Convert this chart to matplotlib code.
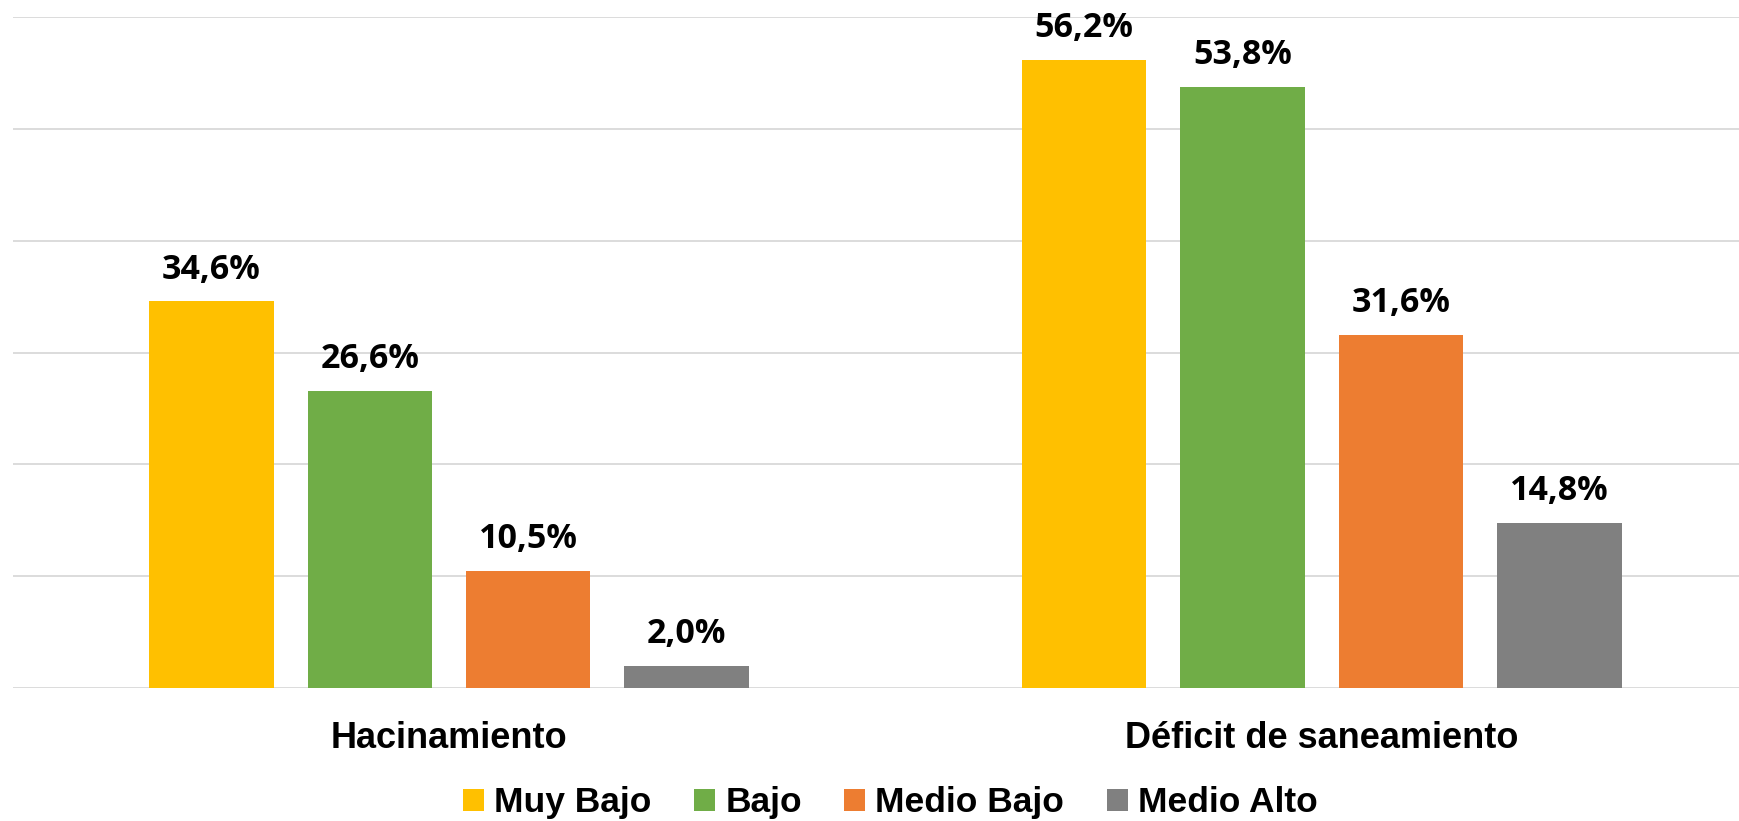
import matplotlib.pyplot as plt
import numpy as np

categories = ["Hacinamiento", "Déficit de saneamiento"]
series_names = ["Muy Bajo", "Bajo", "Medio Bajo", "Medio Alto"]
muy_bajo = [34.6, 56.2]
bajo = [26.6, 53.8]
medio_bajo = [10.5, 31.6]
medio_alto = [2.0, 14.8]
colors = ["#FFC000", "#70AD47", "#ED7D31", "#808080"]

plt.rcParams['font.family'] = ['Liberation Sans', 'DejaVu Sans']

fig = plt.figure(figsize=(17.39, 8.21), dpi=100)
ax = fig.add_axes([0.00725, 0.162, 0.99275, 0.817])

x = np.arange(len(categories))
pitch = 0.1815
width = 0.1426

bars = []
for j, (name, vals) in enumerate(zip(series_names, [muy_bajo, bajo, medio_bajo, medio_alto])):
    pos = x + (j - 1.5) * pitch
    b = ax.bar(pos, vals, width, color=colors[j], label=name, zorder=3)
    bars.append(b)
    # data labels above each bar
    for p, v in zip(pos, vals):
        ax.annotate(f"{v:.1f}%".replace('.', ','), xy=(p, v), xytext=(0, 16.3),
                    textcoords='offset points', ha='center', va='baseline',
                    fontsize=24.5, fontweight='bold', color='black',
                    family=['Open Sans', 'DejaVu Sans'])

ax.set_ylim(0, 60)
ax.set_xlim(-0.5, 1.478)
ax.set_yticks(np.arange(0, 61, 10))
ax.yaxis.grid(True, color='#D9D9D9', linewidth=1.3, zorder=0)
ax.tick_params(axis='y', left=False, labelleft=False)
ax.tick_params(axis='x', length=0, pad=43.2)
ax.set_xticks(x)
ax.set_xticklabels(categories, fontsize=26, fontweight='bold')
plt.setp(ax.get_xticklabels(), va='baseline')
for s in ['top', 'right', 'left', 'bottom']:
    ax.spines[s].set_visible(False)
ax.set_axisbelow(True)

fig.legend(handles=bars, labels=series_names, loc='center', bbox_to_anchor=(0.512, 0.022),
           ncol=4, frameon=False, handlelength=0.59, handleheight=0.59,
           handletextpad=0.29, columnspacing=1.2,
           prop={'size': 25.5, 'weight': 'bold'})

fig.savefig("out.png", dpi=100)
